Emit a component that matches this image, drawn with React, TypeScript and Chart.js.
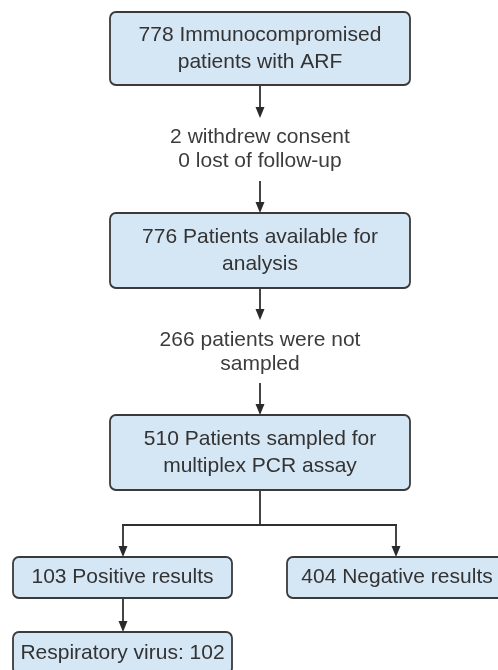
import React, { useEffect, useRef } from "react";
import { Chart, registerables } from "chart.js";

Chart.register(...registerables);

// ---- Data ----
const boxLabels: string[][] = [
  ["778 Immunocompromised", "patients with ARF"],
  ["776 Patients available for", "analysis"],
  ["510 Patients sampled for", "multiplex PCR assay"],
  ["103 Positive results"],
  ["404 Negative results"],
  ["Respiratory virus: 102"],
];
const noteLabels: string[][] = [
  ["2 withdrew consent", "0 lost of follow-up"],
  ["266 patients were not", "sampled"],
];

// ---- Layout (chart units: x 0..498, y 0..670 top-down) ----
const boxRects = [
  { x1: 110, x2: 410, y1: 12, y2: 85 },
  { x1: 110, x2: 410, y1: 213, y2: 288 },
  { x1: 110, x2: 410, y1: 415, y2: 490 },
  { x1: 13, x2: 232, y1: 557, y2: 598 },
  { x1: 287, x2: 507, y1: 557, y2: 598 },
  { x1: 13, x2: 232, y1: 632, y2: 674 },
];
const notePos = [
  { x: 260, y: 149 },
  { x: 260, y: 352 },
];
const arrows = [
  [260, 85, 260, 118],
  [260, 181, 260, 213],
  [260, 288, 260, 320],
  [260, 383, 260, 415],
  [123, 525, 123, 557],
  [396, 525, 396, 557],
  [123, 598, 123, 632],
];
const lines = [
  [260, 490, 260, 525],
  [122, 525, 397, 525],
];

const FONT = '"Liberation Sans", Arial, sans-serif';

const flowPlugin = {
  id: "flow",
  afterDraw(chart: any) {
    const ctx: CanvasRenderingContext2D = chart.ctx;
    const xs = chart.scales.x;
    const ys = chart.scales.y;
    const px = (v: number) => xs.getPixelForValue(v);
    const py = (v: number) => ys.getPixelForValue(v);
    ctx.save();
    // lines
    ctx.strokeStyle = "#303030";
    ctx.lineWidth = 1.8;
    for (const [x1, y1, x2, y2] of lines) {
      ctx.beginPath();
      ctx.moveTo(px(x1), py(y1));
      ctx.lineTo(px(x2), py(y2));
      ctx.stroke();
    }
    for (const [x1, y1, x2, y2] of arrows) {
      const ax = px(x1), ay1 = py(y1), ay2 = py(y2);
      ctx.beginPath();
      ctx.moveTo(ax, ay1);
      ctx.lineTo(px(x2), ay2 - 6);
      ctx.stroke();
      ctx.fillStyle = "#2a2a2a";
      ctx.beginPath();
      ctx.moveTo(ax - 4.5, ay2 - 11);
      ctx.lineTo(ax + 4.5, ay2 - 11);
      ctx.lineTo(ax, ay2);
      ctx.closePath();
      ctx.fill();
    }
    // boxes
    boxRects.forEach((r, i) => {
      const x1 = px(r.x1), x2 = px(r.x2), y1 = py(r.y1), y2 = py(r.y2);
      ctx.beginPath();
      (ctx as any).roundRect(x1, y1, x2 - x1, y2 - y1, 6);
      ctx.fillStyle = "#d5e6f5";
      ctx.fill();
      ctx.strokeStyle = "#3a3a3a";
      ctx.lineWidth = 1.8;
      ctx.stroke();
      const lbl = boxLabels[i];
      ctx.fillStyle = "#333333";
      ctx.font = `21px ${FONT}`;
      ctx.textAlign = "center";
      ctx.textBaseline = "middle";
      const cx = (x1 + x2) / 2;
      const cy = (y1 + y2) / 2;
      const lh = 27;
      lbl.forEach((t, k) => {
        const ty = cy + (k - (lbl.length - 1) / 2) * lh;
        const tx = i === 4 ? px(397) : cx;
        ctx.fillText(t, tx, ty);
      });
    });
    // notes
    noteLabels.forEach((lbl, i) => {
      const p = notePos[i];
      ctx.fillStyle = "#3c3c3c";
      ctx.font = `21px ${FONT}`;
      ctx.textAlign = "center";
      ctx.textBaseline = "middle";
      lbl.forEach((t, k) => {
        const ty = py(p.y) + (k - (lbl.length - 1) / 2) * 24;
        ctx.fillText(t, px(p.x), ty);
      });
    });
    ctx.restore();
  },
};

export default function App() {
  const ref = useRef<HTMLCanvasElement>(null);
  useEffect(() => {
    if (!ref.current) return;
    const chart = new Chart(ref.current, {
      type: "scatter",
      data: {
        datasets: [
          {
            data: boxRects.map((r) => ({ x: (r.x1 + r.x2) / 2, y: (r.y1 + r.y2) / 2 })),
            pointRadius: 0,
          },
        ],
      },
      options: {
        animation: false,
        responsive: false,
        maintainAspectRatio: false,
        layout: { padding: 0 },
        plugins: { legend: { display: false }, tooltip: { enabled: false } },
        scales: {
          x: { type: "linear", min: 0, max: 498, display: false },
          y: { type: "linear", min: 0, max: 670, reverse: true, display: false },
        },
      },
      plugins: [flowPlugin],
    });
    return () => chart.destroy();
  }, []);
  return (
    <div style={{ position: "fixed", left: 0, top: 0, width: 498, height: 670, background: "#fff" }}>
      <canvas ref={ref} width={498} height={670} style={{ width: 498, height: 670 }} />
    </div>
  );
}
